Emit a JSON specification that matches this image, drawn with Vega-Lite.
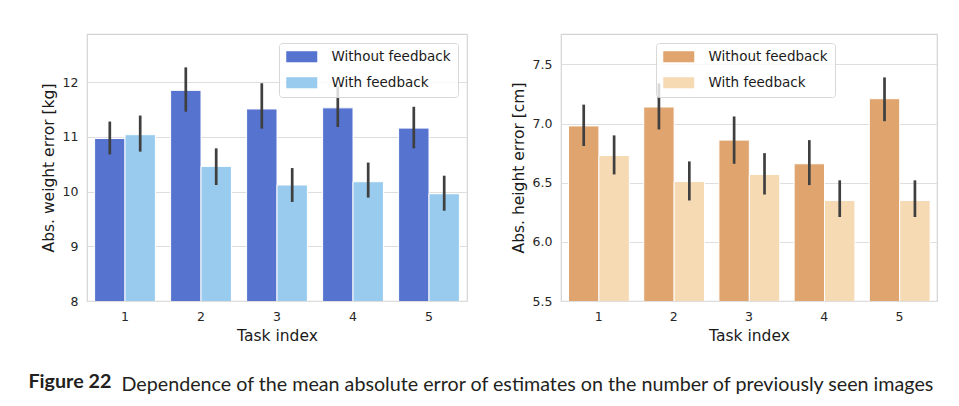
{
  "$schema": "https://vega.github.io/schema/vega-lite/v6.json",
  "autosize": {"type": "pad"},
  "padding": {"left": 28, "top": 33, "right": 10, "bottom": 10},
  "background": "white",
  "datasets": {
    "weight": [
      {"task": "1", "fb": "Without feedback", "mean": 10.97, "lo": 10.68, "hi": 11.28},
      {"task": "1", "fb": "With feedback", "mean": 11.04, "lo": 10.73, "hi": 11.39},
      {"task": "2", "fb": "Without feedback", "mean": 11.85, "lo": 11.46, "hi": 12.27},
      {"task": "2", "fb": "With feedback", "mean": 10.46, "lo": 10.12, "hi": 10.79},
      {"task": "3", "fb": "Without feedback", "mean": 11.51, "lo": 11.15, "hi": 11.98},
      {"task": "3", "fb": "With feedback", "mean": 10.12, "lo": 9.81, "hi": 10.43},
      {"task": "4", "fb": "Without feedback", "mean": 11.53, "lo": 11.18, "hi": 11.92},
      {"task": "4", "fb": "With feedback", "mean": 10.18, "lo": 9.89, "hi": 10.53},
      {"task": "5", "fb": "Without feedback", "mean": 11.16, "lo": 10.79, "hi": 11.55},
      {"task": "5", "fb": "With feedback", "mean": 9.96, "lo": 9.65, "hi": 10.29}
    ],
    "height": [
      {"task": "1", "fb": "Without feedback", "mean": 6.98, "lo": 6.81, "hi": 7.16},
      {"task": "1", "fb": "With feedback", "mean": 6.73, "lo": 6.57, "hi": 6.90},
      {"task": "2", "fb": "Without feedback", "mean": 7.14, "lo": 6.95, "hi": 7.34},
      {"task": "2", "fb": "With feedback", "mean": 6.51, "lo": 6.35, "hi": 6.68},
      {"task": "3", "fb": "Without feedback", "mean": 6.86, "lo": 6.66, "hi": 7.06},
      {"task": "3", "fb": "With feedback", "mean": 6.57, "lo": 6.40, "hi": 6.75},
      {"task": "4", "fb": "Without feedback", "mean": 6.66, "lo": 6.48, "hi": 6.86},
      {"task": "4", "fb": "With feedback", "mean": 6.35, "lo": 6.21, "hi": 6.52},
      {"task": "5", "fb": "Without feedback", "mean": 7.21, "lo": 7.02, "hi": 7.39},
      {"task": "5", "fb": "With feedback", "mean": 6.35, "lo": 6.21, "hi": 6.52}
    ]
  },
  "title": {
    "text": "Figure 22",
    "orient": "bottom",
    "anchor": "start",
    "font": "Lato",
    "fontSize": 19.7,
    "fontWeight": "bold",
    "color": "#231f20",
    "dx": -12,
    "dy": -22,
    "offset": 0
  },
  "vconcat": [
    {
      "title": {
        "text": "Dependence of the mean absolute error of estimates on the number of previously seen images",
        "orient": "bottom",
        "anchor": "start",
        "font": "Lato",
        "fontSize": 19.7,
        "fontWeight": "normal",
        "color": "#231f20",
        "dx": 81,
        "offset": 30
      },
      "hconcat": [
        {
          "width": 380,
          "height": 267,
          "data": {"name": "weight"},
          "encoding": {
            "x": {
              "field": "task", "type": "ordinal",
              "scale": {"paddingInner": 0.2, "paddingOuter": 0.1},
              "axis": {"title": "Task index", "labelAngle": 0}
            },
            "xOffset": {
              "field": "fb", "type": "nominal",
              "sort": ["Without feedback", "With feedback"],
              "scale": {"paddingInner": 0, "paddingOuter": 0}
            }
          },
          "layer": [
            {
              "mark": {"type": "bar", "stroke": "white", "strokeWidth": 1, "clip": true},
              "encoding": {
                "y": {
                  "field": "mean", "type": "quantitative",
                  "scale": {"domain": [8, 12.88], "nice": false, "zero": false},
                  "axis": {"title": "Abs. weight error [kg]", "values": [8, 9, 10, 11, 12], "format": "d"}
                },
                "color": {
                  "field": "fb", "type": "nominal",
                  "sort": ["Without feedback", "With feedback"],
                  "scale": {"domain": ["Without feedback", "With feedback"], "range": ["#5573cf", "#98cbed"]},
                  "legend": {"title": null, "orient": "top-right", "offset": 9}
                }
              }
            },
            {
              "mark": {"type": "rule", "color": "#3f3f3f", "strokeWidth": 2.7},
              "encoding": {
                "y": {"field": "lo", "type": "quantitative"},
                "y2": {"field": "hi"}
              }
            }
          ]
        },
        {
          "width": 376,
          "height": 267,
          "data": {"name": "height"},
          "encoding": {
            "x": {
              "field": "task", "type": "ordinal",
              "scale": {"paddingInner": 0.2, "paddingOuter": 0.1},
              "axis": {"title": "Task index", "labelAngle": 0}
            },
            "xOffset": {
              "field": "fb", "type": "nominal",
              "sort": ["Without feedback", "With feedback"],
              "scale": {"paddingInner": 0, "paddingOuter": 0}
            }
          },
          "layer": [
            {
              "mark": {"type": "bar", "stroke": "white", "strokeWidth": 1, "clip": true},
              "encoding": {
                "y": {
                  "field": "mean", "type": "quantitative",
                  "scale": {"domain": [5.5, 7.757], "nice": false, "zero": false},
                  "axis": {"title": "Abs. height error [cm]", "values": [5.5, 6.0, 6.5, 7.0, 7.5], "format": ".1f"}
                },
                "color": {
                  "field": "fb", "type": "nominal",
                  "sort": ["Without feedback", "With feedback"],
                  "scale": {"domain": ["Without feedback", "With feedback"], "range": ["#e0a56f", "#f5dab4"]},
                  "legend": {"title": null, "orient": "none", "legendX": 95, "legendY": 9}
                }
              }
            },
            {
              "mark": {"type": "rule", "color": "#3f3f3f", "strokeWidth": 2.7},
              "encoding": {
                "y": {"field": "lo", "type": "quantitative"},
                "y2": {"field": "hi"}
              }
            }
          ]
        }
      ],
      "spacing": 42,
      "resolve": {"scale": {"color": "independent"}}
    }
  ],
  "config": {
    "font": "DejaVu Sans",
    "view": {"stroke": "#d4d4d4", "strokeWidth": 1.2},
    "axis": {
      "labelFont": "DejaVu Sans",
      "titleFont": "DejaVu Sans",
      "labelFontSize": 12.5,
      "titleFontSize": 15.5,
      "labelColor": "#262626",
      "titleColor": "#1a1a1a",
      "titleFontWeight": "normal",
      "ticks": false,
      "domain": false,
      "labelPadding": 9
    },
    "axisX": {"grid": false, "titlePadding": 6},
    "axisY": {"grid": true, "gridColor": "#dedede", "gridWidth": 1.1, "titlePadding": 6},
    "legend": {
      "labelFont": "DejaVu Sans",
      "labelFontSize": 13.5,
      "labelColor": "#1a1a1a",
      "symbolType": "M-1,-0.85H3.77V0.85H-1Z",
      "symbolSize": 169,
      "symbolStrokeWidth": 0,
      "symbolOpacity": 1,
      "labelOffset": 32,
      "rowPadding": 11,
      "padding": 7,
      "strokeColor": "#d8d8d8",
      "fillColor": "rgba(255,255,255,0.8)",
      "cornerRadius": 3
    }
  }
}
